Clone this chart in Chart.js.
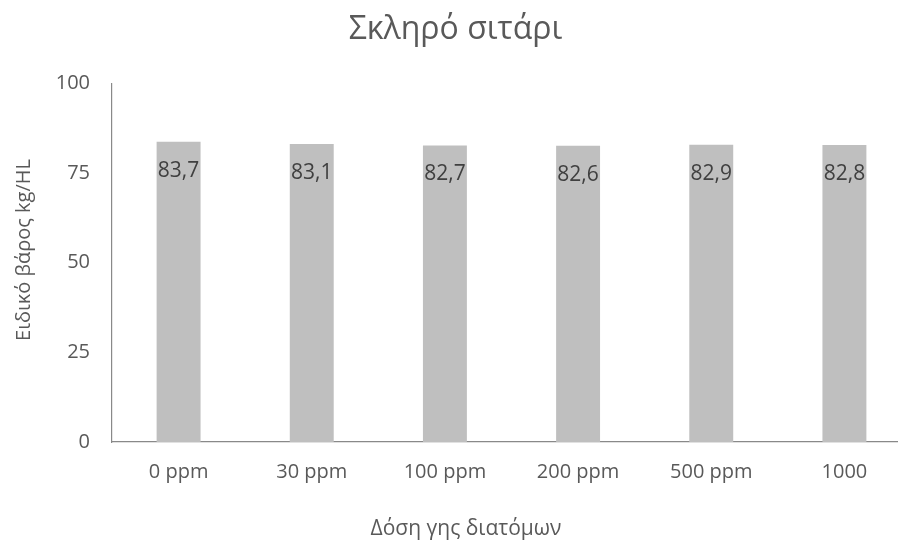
<!DOCTYPE html>
<html><head><meta charset="utf-8">
<script src="https://cdn.jsdelivr.net/npm/chart.js@4/dist/chart.umd.min.js"></script>
<style>html,body{margin:0;padding:0;background:#fff;overflow:hidden}#wrap{width:898px;height:547px;overflow:hidden}</style>
</head><body><div id="wrap"><canvas id="c" width="920" height="547"></canvas></div>
<script>
const categories = ["0 ppm", "30 ppm", "100 ppm", "200 ppm", "500 ppm", "1000"];
const values = [83.7, 83.1, 82.7, 82.6, 82.9, 82.8];
const yTicks = [0, 25, 50, 75, 100];
const chartTitle = "Σκληρό σιτάρι";
const xTitle = "Δόση γης διατόμων";
const yTitle = "Ειδικό βάρος kg/HL";

const FONT = "'Open Sans', 'Noto Sans', sans-serif";
const TXT = "#595959";

const labelPlugin = {
  id: 'vlabels',
  afterDatasetsDraw(chart) {
    const ctx = chart.ctx;
    const meta = chart.getDatasetMeta(0);
    ctx.save();
    ctx.font = "21px " + FONT;
    ctx.fillStyle = "#404040";
    ctx.textAlign = "center";
    ctx.textBaseline = "middle";
    meta.data.forEach((bar, i) => {
      ctx.fillText(values[i].toFixed(1).replace('.', ','), bar.x, bar.y + 29);
    });
    ctx.restore();
  },
  afterDraw(chart) {
    const ctx = chart.ctx;
    ctx.save();
    ctx.font = "21px " + FONT;
    ctx.fillStyle = TXT;
    ctx.textAlign = "center";
    ctx.textBaseline = "middle";
    ctx.fillText(xTitle, 466, 529);
    ctx.translate(24, 250);
    ctx.rotate(-Math.PI / 2);
    ctx.font = "20px " + FONT;
    ctx.fillText(yTitle, 0, 0);
    ctx.restore();
  }
};

new Chart(document.getElementById('c'), {
  type: 'bar',
  data: {
    labels: categories,
    datasets: [{
      data: values,
      backgroundColor: '#bfbfbf',
      categoryPercentage: 0.33,
      barPercentage: 1.0
    }]
  },
  options: {
    responsive: false,
    animation: false,
    devicePixelRatio: 1,
    layout: { padding: { left: 0, right: 9, top: 0, bottom: 0 } },
    plugins: {
      legend: { display: false },
      tooltip: { enabled: false },
      title: {
        display: true, text: chartTitle, color: TXT,
        font: { family: FONT, size: 32, weight: 'normal' },
        padding: { top: 11, bottom: 34 }
      }
    },
    scales: {
      x: {
        grid: { display: false, drawTicks: false },
        border: { color: '#898989', width: 1.2 },
        ticks: { color: TXT, font: { family: FONT, size: 20 }, padding: 18 },
        afterFit(s) { s.height = 105; }
      },
      y: {
        min: 0, max: 100,
        afterBuildTicks(s) { s.ticks = yTicks.map(v => ({ value: v })); },
        grid: { display: false, drawTicks: false },
        border: { color: '#898989', width: 1.2 },
        ticks: { color: TXT, font: { family: FONT, size: 20 }, padding: 22 },
        afterFit(s) { s.width = 112; }
      }
    }
  },
  plugins: [labelPlugin]
});
</script></body></html>
